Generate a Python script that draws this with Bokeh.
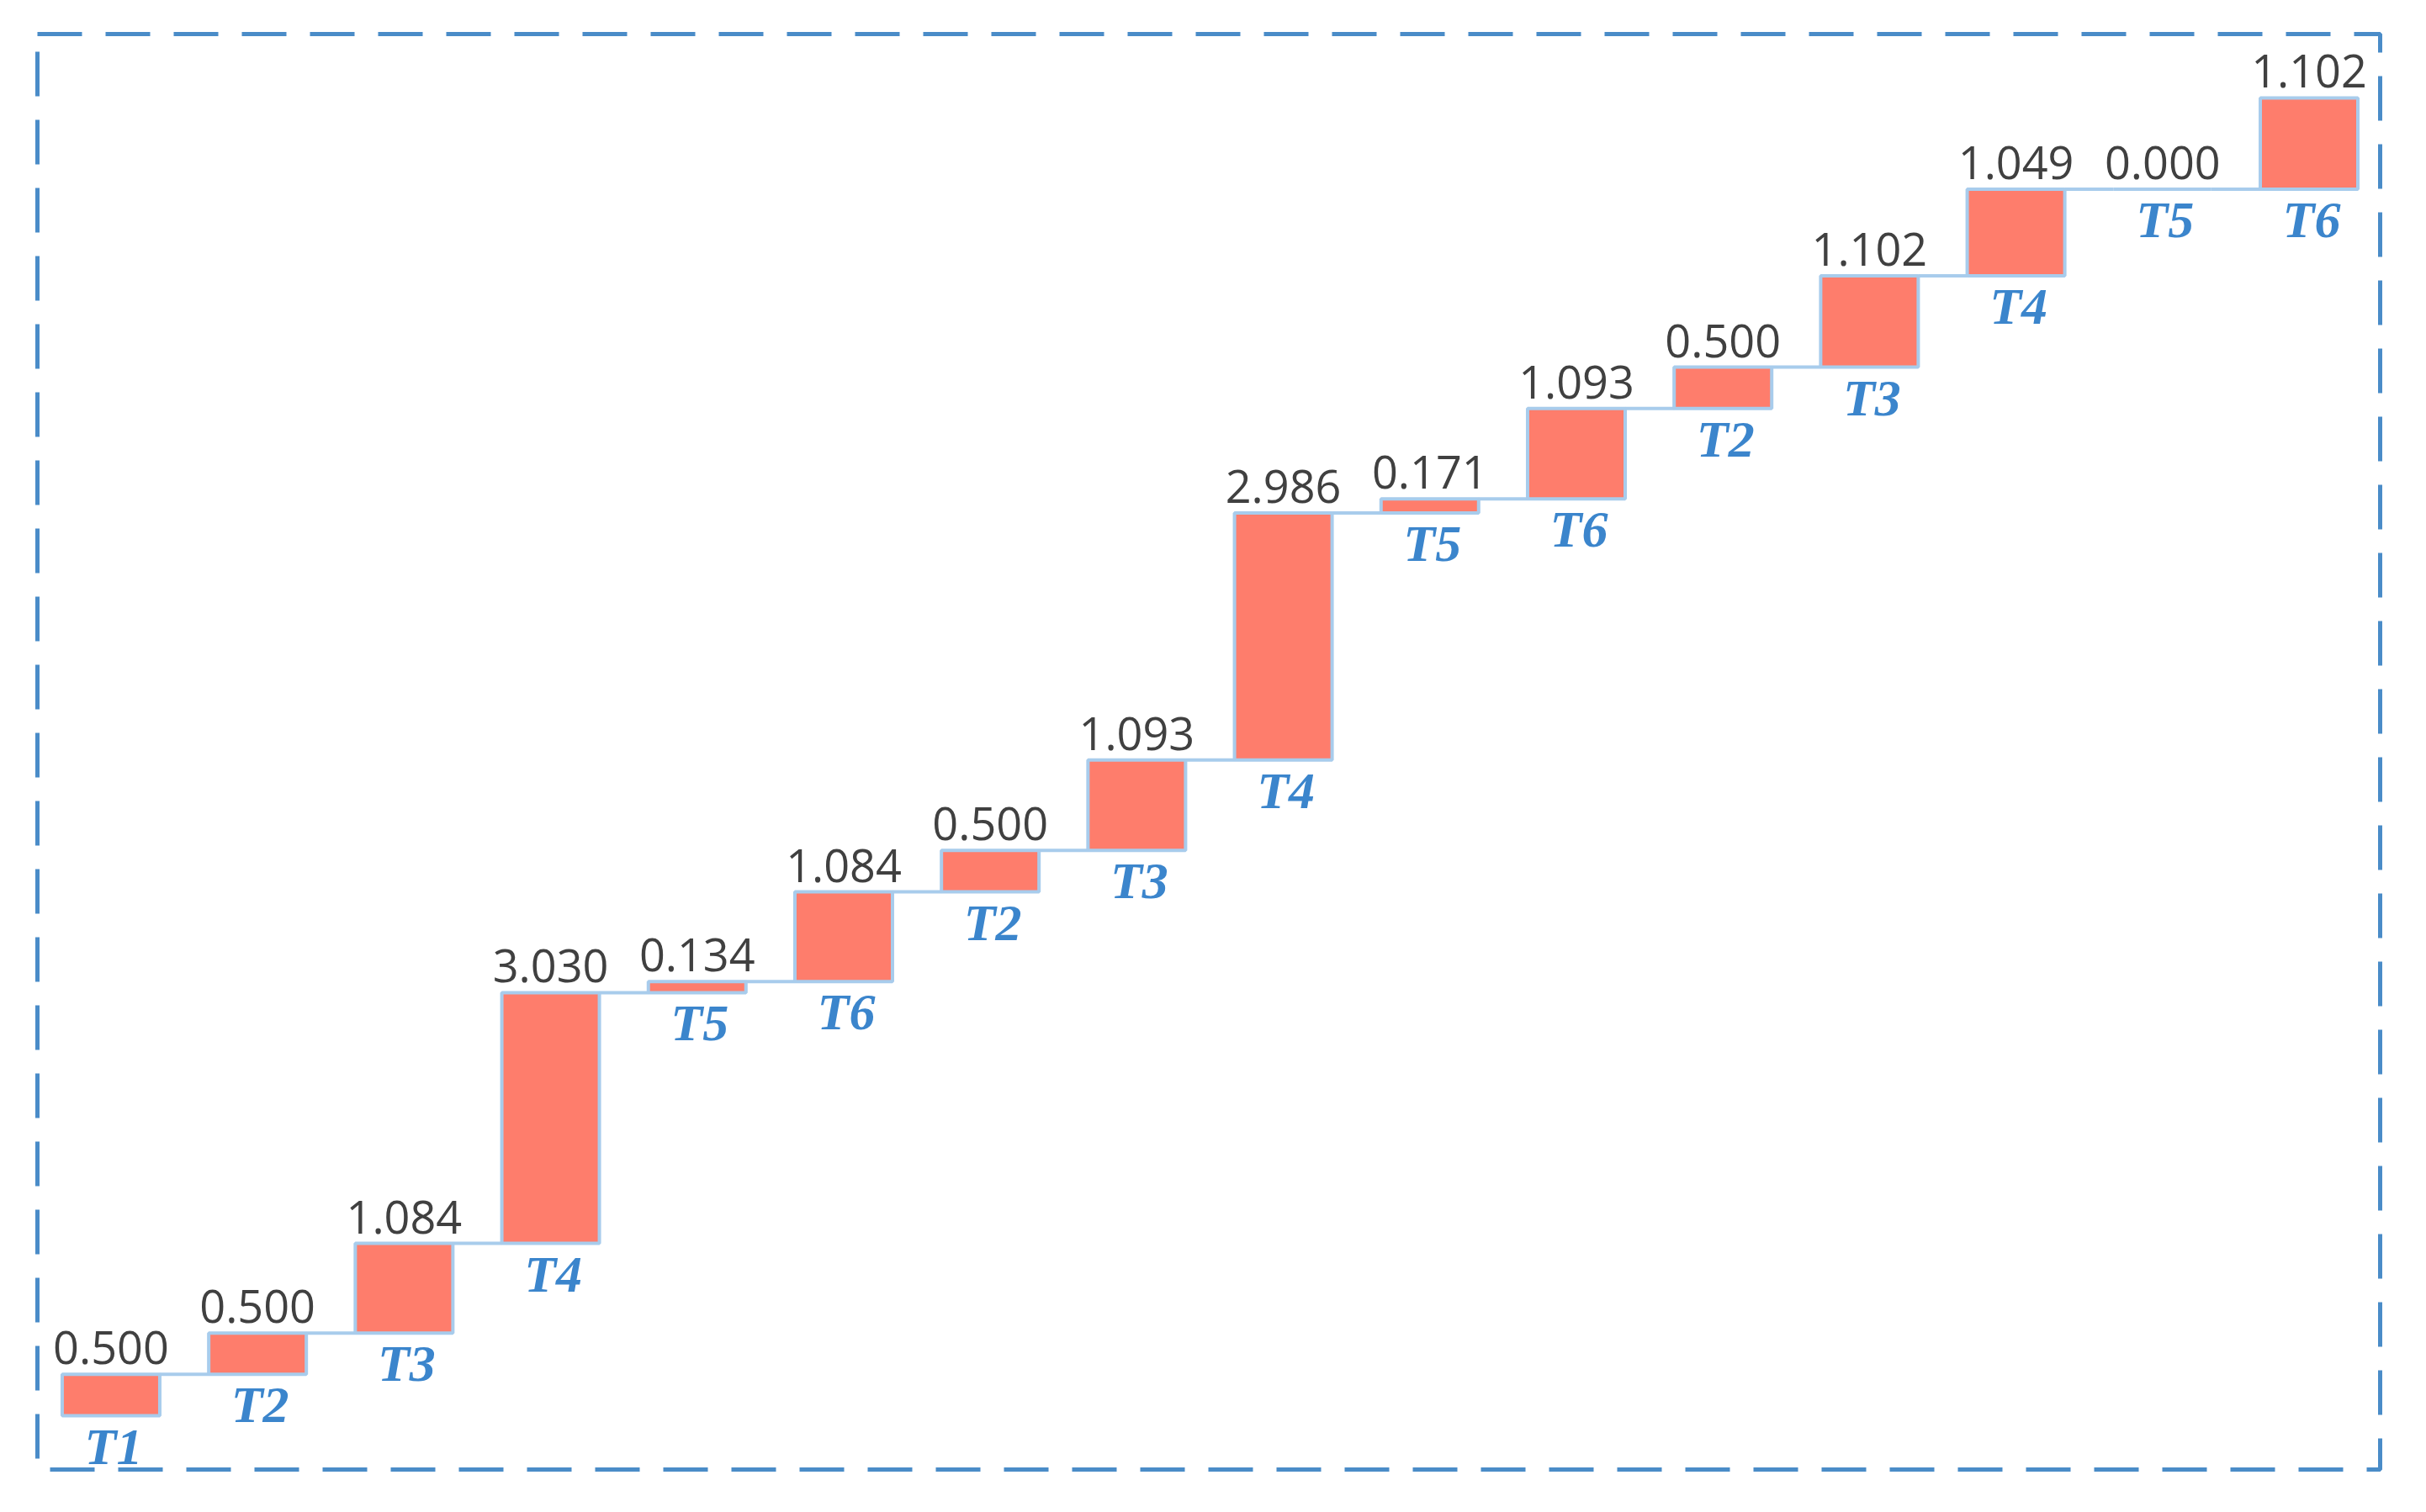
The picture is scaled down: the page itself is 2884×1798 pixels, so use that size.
from bokeh.plotting import figure
from bokeh.models import ColumnDataSource, Range1d
from bokeh.core.properties import value
from bokeh.embed import file_html
from bokeh.resources import INLINE

stages = ["T1", "T2", "T3", "T4", "T5", "T6", "T2", "T3", "T4", "T5", "T6", "T2", "T3", "T4", "T5", "T6"]
values = [0.500, 0.500, 1.084, 3.030, 0.134, 1.084, 0.500, 1.093, 2.986, 0.171, 1.093, 0.500, 1.102, 1.049, 0.000, 1.102]

n = len(values)
xs = list(range(n))
bottoms, tops = [], []
acc = 0.0
for v in values:
    bottoms.append(acc)
    acc += v
    tops.append(acc)

W = 0.666
src = ColumnDataSource(dict(
    x=xs, bottom=bottoms, top=tops, stage=stages,
    label=[f"{v:.3f}" for v in values],
))

x0 = [xs[i] + W / 2 for i in range(n - 1)]
x1 = [xs[i + 1] - W / 2 for i in range(n - 1)]
yc = [tops[i] for i in range(n - 1)]
conn = ColumnDataSource(dict(x0=x0, x1=x1, y=yc))

p = figure(width=2868, height=1782, output_backend="svg", toolbar_location=None,
           x_range=Range1d(-0.502, 15.485), y_range=Range1d(-0.65, 16.70),
           min_border_left=44, min_border_right=39, min_border_top=40, min_border_bottom=35)
p.axis.visible = False
p.grid.visible = False
p.outline_line_color = "#4A8CC8"
p.outline_line_width = 5
p.outline_line_dash = "53 28"
p.background_fill_color = "white"
p.border_fill_color = "white"

p.segment(x0="x0", y0="y", x1="x1", y1="y", source=conn, line_color="#A8CCEC", line_width=4)
p.vbar(x="x", bottom="bottom", top="top", width=W, source=src,
       fill_color="#FE7D6C", line_color="#A8CCEC", line_width=4)

p.text(x="x", y="top", text="label", source=src, text_align="center", text_baseline="bottom",
       y_offset=-12, text_font=value("Open Sans"), text_font_size="54px", text_color="#404040")
p.text(x="x", y="bottom", text="stage", source=src, text_align="center", text_baseline="top",
       y_offset=2, x_offset=3, text_font=value("Liberation Serif"), text_font_size="62px",
       text_font_style="bold italic", text_color="#3B85CC")

open("out.html", "w").write(file_html(p, INLINE))
